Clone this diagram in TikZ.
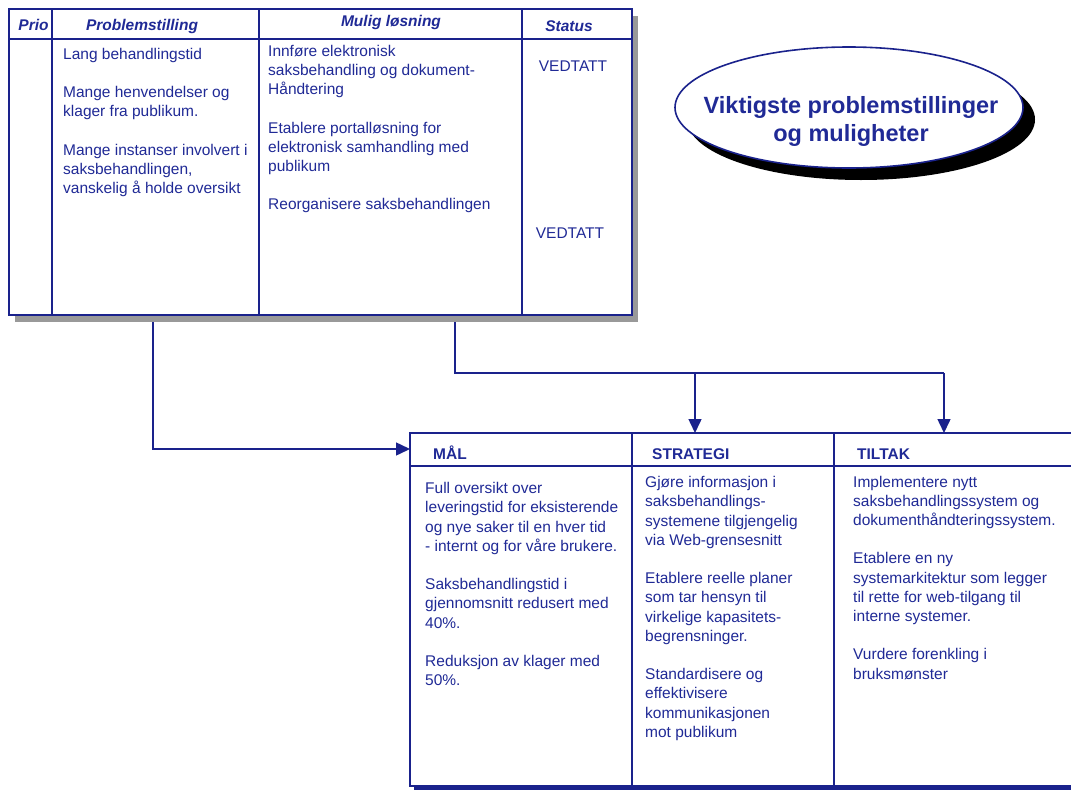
\documentclass[tikz,border=0pt]{standalone}
\usepackage{fontspec}
\setmainfont{Liberation Sans}
\usetikzlibrary{shapes.geometric,shadows,arrows.meta,calc}

\definecolor{navy}{RGB}{26,34,140}
\definecolor{ink}{RGB}{32,42,150}
\definecolor{shadowgray}{RGB}{153,153,153}

\newcommand\fbody{\fontsize{15.5}{19.2}\selectfont}
\newcommand\fheadit{\fontsize{15.5}{19.2}\selectfont\bfseries\itshape}
\newcommand\fheadbf{\fontsize{15.5}{19.2}\selectfont\bfseries}
\newcommand\ftitle{\fontsize{23.5}{28.5}\selectfont\bfseries}
\newcommand\gap{\\[19.2pt]}

\tikzset{
  tablebox/.style={draw=navy, fill=white, anchor=north west, inner sep=0pt, outer sep=0pt},
  grid/.style={draw=navy, line width=2pt},
  bodytext/.style={anchor=north west, inner sep=0pt, align=left, font=\fbody, text=ink},
  statustext/.style={anchor=base, inner sep=0pt, font=\fbody, text=ink},
  colhead/.style={anchor=base, inner sep=0pt, font=\fheadit, text=ink},
  boxhead/.style={anchor=base west, inner sep=0pt, font=\fheadbf, text=ink},
  titletext/.style={anchor=north, inner sep=0pt, align=center, font=\ftitle, text=ink},
  conn/.style={draw=navy, line width=1.5pt},
  tip/.style={-{Triangle[length=14pt,width=13pt]}}
}

\begin{document}
\begin{tikzpicture}[x=1pt,y=-1pt]
  \fill[white] (0,0) rectangle (1071,790);
  \useasboundingbox (0,0) rectangle (1071,790);

  % problem table
  \node[tablebox, line width=2pt, minimum width=623pt, minimum height=306pt,
        drop shadow={shadow xshift=6pt, shadow yshift=-7pt, fill=shadowgray, opacity=1}]
        (prob) at (9,9) {};
  \draw[grid] (9,39) -- (632,39);
  \draw[grid] (52,9) -- (52,315);
  \draw[grid] (259,9) -- (259,315);
  \draw[grid] (522,9) -- (522,315);

  \node[colhead] (hprio) at (33.5,30.5) {Prio};
  \node[colhead] (hprob) at (142,30.5) {Problemstilling};
  \node[colhead] (hlos) at (391,26) {Mulig løsning};
  \node[colhead] (hstat) at (569,31) {Status};

  \node[bodytext] (probtxt) at (63,45.6) {\strut Lang behandlingstid\gap
    Mange henvendelser og\\klager fra publikum.\gap
    Mange instanser involvert i\\saksbehandlingen,\\vanskelig å holde oversikt};
  \node[bodytext] (lostxt) at (268,42.6) {\strut Innføre elektronisk\\saksbehandling og dokument-\\Håndtering\gap
    Etablere portalløsning for\\elektronisk samhandling med\\publikum\gap
    Reorganisere saksbehandlingen};
  \node[statustext] (stat1) at (573,71.7) {VEDTATT};
  \node[statustext] (stat2) at (570,238) {VEDTATT};

  % title oval
  \node[ellipse, draw=navy, line width=1.6pt, fill=white, minimum width=348pt,
        minimum height=121pt, inner sep=0pt,
        drop shadow={shadow xshift=12pt, shadow yshift=-12pt, fill=black, opacity=1}]
        (oval) at (849,107.5) {};
  \node[titletext] (title) at (851,93) {\strut Viktigste problemstillinger\\og muligheter};

  % goals table
  \node[tablebox, line width=1.8pt, minimum width=680pt, minimum height=353pt,
        drop shadow={shadow xshift=4pt, shadow yshift=-4pt, fill=navy, opacity=1}]
        (goal) at (410,433) {};
  \draw[grid, line width=2.6pt] (410,466) -- (1090,466);
  \draw[grid] (632,433) -- (632,786);
  \draw[grid] (834,433) -- (834,786);

  \node[boxhead] (hmal) at (433,459) {MÅL};
  \node[boxhead] (hstrat) at (652,459) {STRATEGI};
  \node[boxhead] (htilt) at (857,459) {TILTAK};

  \node[bodytext] (maltxt) at (425,480) {\strut Full oversikt over\\leveringstid for eksisterende\\og nye saker til en hver tid\\- internt og for våre brukere.\gap
    Saksbehandlingstid i\\gjennomsnitt redusert med\\40\%.\gap
    Reduksjon av klager med\\50\%.};
  \node[bodytext] (strattxt) at (645,474) {\strut Gjøre informasjon i\\saksbehandlings-\\systemene tilgjengelig\\via Web-grensesnitt\gap
    Etablere reelle planer\\som tar hensyn til\\virkelige kapasitets-\\begrensninger.\gap
    Standardisere og\\effektivisere\\kommunikasjonen\\mot publikum};
  \node[bodytext] (tilttxt) at (853,473.5) {\strut Implementere nytt\\saksbehandlingssystem og\\dokumenthåndteringssystem.\gap
    Etablere en ny\\systemarkitektur som legger\\til rette for web-tilgang til\\interne systemer.\gap
    Vurdere forenkling i\\bruksmønster};

  % connectors
  \coordinate (bendL) at (153,449);
  \coordinate (bendR) at (455,373);
  \coordinate (branchS) at (695,373);
  \coordinate (branchT) at (944,373);
  \draw[conn, tip] ($(prob.south -| bendL)+(0,7)$) -- (bendL) -- (goal.west |- bendL);
  \draw[conn] ($(prob.south -| bendR)+(0,7)$) -- (bendR) -- (branchT);
  \draw[conn, tip] (branchS) -- (goal.north -| branchS);
  \draw[conn, tip] (branchT) -- (goal.north -| branchT);
\end{tikzpicture}
\end{document}
